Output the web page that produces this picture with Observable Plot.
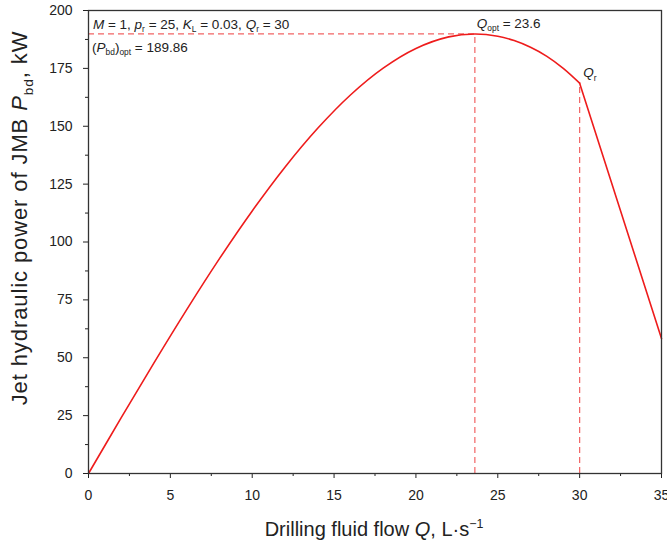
<!DOCTYPE html>
<html>
<head>
<meta charset="utf-8">
<script src="https://cdn.jsdelivr.net/npm/d3@7"></script>
<script src="https://cdn.jsdelivr.net/npm/@observablehq/plot@0.6"></script>
<style>
  html, body { margin: 0; padding: 0; background: #fff; }
  #chart { width: 667px; height: 547px; }
</style>
</head>
<body>
<div id="chart"></div>
<script>
// Values
const flowQ  = [0, 2, 4, 6, 8, 10, 12, 14, 16, 18, 20, 22, 23.6, 25, 26, 27, 28, 29, 30, 35];
const powerP = [0, 24.1, 47.8, 70.8, 92.8, 113.4, 132.3, 149.1, 163.5, 175.1, 183.6, 188.6, 189.86, 188.9, 187.0, 184.1, 180.2, 175.0, 168.6, 58.3];
const Qopt = 23.6;
const PbdOpt = 189.86;
const Qr = 30;
const PatQr = 168.6;
const xTicks = [0, 5, 10, 15, 20, 25, 30, 35];
const yTicks = [0, 25, 50, 75, 100, 125, 150, 175, 200];

const curveData = flowQ.map((q, i) => ({q, p: powerP[i]}));
const upper = curveData.filter(d => d.q <= Qr);
const lower = curveData.filter(d => d.q >= Qr);

const red = "#ee1c1c";
const dashRed = "#f26464";
const ink = "#222";
const font = "Liberation Sans, Arial, Helvetica, sans-serif";

const plot = Plot.plot({
  width: 667,
  height: 547,
  marginLeft: 88,
  marginRight: 6,
  marginTop: 10,
  marginBottom: 74,
  style: {fontFamily: font, color: ink, background: "#fff"},
  x: {domain: [0, 35]},
  y: {domain: [0, 200]},
  marks: [
    Plot.ruleY([PbdOpt], {x1: 0, x2: Qopt, stroke: dashRed, strokeWidth: 1.2, strokeDasharray: "6,4"}),
    Plot.ruleX([Qopt], {y1: 0, y2: PbdOpt, stroke: dashRed, strokeWidth: 1.2, strokeDasharray: "6,4"}),
    Plot.ruleX([Qr], {y1: 0, y2: PatQr, stroke: dashRed, strokeWidth: 1.2, strokeDasharray: "6,4"}),
    Plot.line(upper, {x: "q", y: "p", stroke: red, strokeWidth: 1.6, curve: "catmull-rom"}),
    Plot.line(lower, {x: "q", y: "p", stroke: red, strokeWidth: 1.6}),
    Plot.axisX({ticks: xTicks, tickSize: 5, tickPadding: 12, fontSize: 14, label: null, stroke: ink, color: ink}),
    Plot.axisX({ticks: d3.range(2.5, 35, 5), tickSize: 3, text: null, label: null, stroke: ink}),
    Plot.axisY({ticks: yTicks, tickSize: 5, tickPadding: 11, fontSize: 14, label: null, stroke: ink, color: ink}),
    Plot.axisY({ticks: d3.range(12.5, 200, 25), tickSize: 3, text: null, label: null, stroke: ink}),
    Plot.frame({stroke: "#333", strokeWidth: 1.3})
  ]
});

document.getElementById("chart").appendChild(plot);

const sx = plot.scale("x"), sy = plot.scale("y");
const svg = d3.select(plot);

function rich(x, y, parts, size, opts = {}) {
  const t = svg.append("text")
    .attr("x", x).attr("y", y)
    .attr("font-size", size)
    .attr("font-family", font)
    .attr("fill", ink)
    .attr("text-anchor", opts.anchor || "start");
  if (opts.spacing) t.attr("letter-spacing", opts.spacing);
  if (opts.rotate) t.attr("transform", `rotate(${opts.rotate} ${x} ${y})`);
  let shift = 0;
  for (const p of parts) {
    const s = t.append("tspan").text(p.t);
    if (p.i) s.attr("font-style", "italic");
    const target = p.sub ? size * 0.25 : p.sup ? -size * 0.38 : 0;
    if (target !== shift) { s.attr("dy", target - shift); shift = target; }
    if (p.sub || p.sup) s.attr("font-size", size * 0.62);
  }
  return t;
}

// annotations
rich(sx.apply(0.3), sy.apply(191.8), [
  {t: "M", i: true}, {t: " = 1, "}, {t: "p", i: true}, {t: "r", sub: true},
  {t: " = 25, "}, {t: "K", i: true}, {t: "L", sub: true}, {t: " = 0.03, "},
  {t: "Q", i: true}, {t: "r", sub: true}, {t: " = 30"}
], 13.5);
rich(sx.apply(0.25), sy.apply(182.0), [
  {t: "("}, {t: "P", i: true}, {t: "bd", sub: true}, {t: ")"}, {t: "opt", sub: true}, {t: " = 189.86"}
], 13.5);
rich(sx.apply(23.75), sy.apply(192.2), [
  {t: "Q", i: true}, {t: "opt", sub: true}, {t: " = 23.6"}
], 13.5);
rich(sx.apply(30.25), sy.apply(171), [
  {t: "Q", i: true}, {t: "r", sub: true}
], 13.5);

// axis titles
rich(374, 536, [
  {t: "Drilling fluid flow "}, {t: "Q", i: true}, {t: ", L·s"}, {t: "−1", sup: true}
], 20, {anchor: "middle"});
rich(27, 218, [
  {t: "Jet hydraulic power of JMB "}, {t: "P", i: true}, {t: "bd", sub: true}, {t: ", kW"}
], 22, {anchor: "middle", rotate: -90, spacing: 0.9});
</script>
</body>
</html>
